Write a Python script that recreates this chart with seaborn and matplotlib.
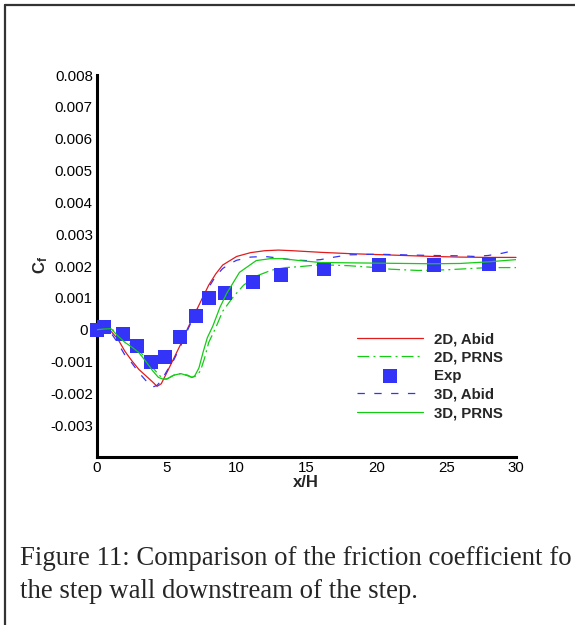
import numpy as np
import pandas as pd
import matplotlib
matplotlib.use("Agg")
import matplotlib.pyplot as plt
from matplotlib.lines import Line2D
from matplotlib.transforms import ScaledTranslation
from matplotlib.ticker import MultipleLocator, FixedLocator, FixedFormatter
import seaborn as sns

# ---------------- data ----------------
x_2d_abid = [0, 0.5, 1.0, 1.5, 2.0, 2.5, 3.0, 3.5, 4.0, 4.3, 4.6, 5.0, 5.5, 6.0, 6.5, 7.0, 7.5,
             8.0, 8.5, 9.0, 10, 11, 12, 13, 14, 16, 18, 20, 22, 24, 26, 28, 30]
cf_2d_abid = [0, 0.00003, -0.00005, -0.0003, -0.00068, -0.00098, -0.00125, -0.00145, -0.00165,
              -0.00178, -0.0017, -0.00135, -0.0009, -0.00045, 0.00005, 0.0005, 0.00095, 0.0014,
              0.00175, 0.00203, 0.0023, 0.00242, 0.00248, 0.0025, 0.00248, 0.00243, 0.00239,
              0.00236, 0.00233, 0.0023, 0.00228, 0.00227, 0.00227]

x_2d_prns = [0, 0.5, 1.0, 1.5, 2.0, 2.5, 3.0, 3.5, 4.0, 4.5, 4.8, 5.0, 5.5, 6.0, 6.5, 6.8, 7.1,
             7.4, 7.7, 8.0, 8.5, 9.0, 9.7, 10.5, 11.5, 12.5, 13.5, 14.5, 16, 18, 20, 21, 23, 25,
             28, 30]
cf_2d_prns = [0, 0.00002, 0.00005, -0.00015, -0.00033, -0.00048, -0.00065, -0.0009, -0.0012,
              -0.00145, -0.00155, -0.00155, -0.00143, -0.00138, -0.00143, -0.0015, -0.00145,
              -0.0013, -0.0009, -0.0004, 0.00006, 0.00058, 0.001, 0.0014, 0.0017, 0.00187,
              0.00195, 0.00198, 0.00204, 0.00201, 0.00195, 0.0019, 0.00186, 0.00188, 0.00195,
              0.00195]

x_exp = [0, 0.5, 1.86, 2.86, 3.87, 4.87, 5.94, 7.09, 8.0, 9.2, 11.2, 13.2, 16.25, 20.2, 24.1, 28.1]
cf_exp = [0, 0.00007, -0.00013, -0.0005, -0.001, -0.00085, -0.00022, 0.00044, 0.001, 0.00116,
          0.0015, 0.00173, 0.0019, 0.00204, 0.00204, 0.00207]

x_3d_abid = [0, 0.5, 1.0, 1.5, 2.0, 2.5, 3.0, 3.5, 4.0, 4.3, 4.6, 5.0, 5.5, 6.0, 6.5, 7.0, 7.5,
             8.0, 8.5, 9.0, 9.5, 10, 11, 12, 13, 14, 15, 16, 17, 18, 20, 22, 24, 26, 27, 28, 29, 30]
cf_3d_abid = [0, 0.00001, -0.0001, -0.00042, -0.0008, -0.00105, -0.00135, -0.0016, -0.0018,
              -0.00175, -0.0016, -0.0013, -0.00095, -0.0005, 0.0, 0.00048, 0.00093, 0.00133,
              0.00168, 0.00192, 0.00207, 0.00218, 0.00228, 0.0023, 0.00225, 0.00219, 0.00217,
              0.0022, 0.00228, 0.00235, 0.00237, 0.00235, 0.00233, 0.00232, 0.0023, 0.00233,
              0.0024, 0.0025]

x_3d_prns = [0, 0.5, 1.0, 1.5, 2.0, 2.5, 3.0, 3.5, 4.0, 4.4, 4.7, 5.0, 5.5, 6.0, 6.5, 6.8, 7.0,
             7.3, 7.6, 7.9, 8.3, 8.8, 9.3, 10.2, 11.4, 12.4, 13.3, 14.5, 16, 18, 20, 22, 24, 26,
             28, 30]
cf_3d_prns = [0, 0.00002, 0.00003, -0.0002, -0.0004, -0.00055, -0.00072, -0.001, -0.0013,
              -0.0015, -0.00155, -0.00155, -0.00143, -0.00138, -0.00145, -0.0015, -0.00145,
              -0.0012, -0.0007, -0.00025, 0.00012, 0.0007, 0.00115, 0.0018, 0.00217, 0.00223,
              0.00223, 0.00217, 0.00211, 0.0021, 0.00209, 0.00208, 0.00207, 0.00208, 0.00213,
              0.0022]

series_labels = ["2D, Abid", "2D, PRNS", "Exp", "3D, Abid", "3D, PRNS"]
x_ticks = [0, 5, 10, 15, 20, 25, 30]
y_ticks = [-0.003, -0.002, -0.001, 0, 0.001, 0.002, 0.003, 0.004, 0.005, 0.006, 0.007, 0.008]
y_tick_labels = ["-0.003", "-0.002", "-0.001", "0", "0.001", "0.002", "0.003", "0.004",
                 "0.005", "0.006", "0.007", "0.008"]
# caption as visible in the (cropped) original page
caption = ["Figure 11: Comparison of the friction coefficient fo",
           "the step wall downstream of the step."]

# ---------------- style ----------------
sns.set_style("white")
plt.rcParams["font.family"] = ["Liberation Sans", "DejaVu Sans"]
plt.rcParams["mathtext.fontset"] = "custom"
plt.rcParams["mathtext.rm"] = "Liberation Sans"
plt.rcParams["mathtext.bf"] = "Liberation Sans:bold"
plt.rcParams["lines.scale_dashes"] = False

W, H = 575, 625
fig = plt.figure(figsize=(W / 100, H / 100), dpi=100)
fig.patch.set_facecolor("white")
ax = fig.add_axes([97 / W, (H - 457) / H, 419 / W, 382 / H])
ax.set_facecolor("white")

RED = "#e21b1b"
GREEN = "#14cc14"
BLUE = "#3434f8"
lw = 0.9

def df(x, y):
    return pd.DataFrame({"x": x, "cf": y})

sns.lineplot(data=df(x_2d_abid, cf_2d_abid), x="x", y="cf", ax=ax, color=RED, lw=lw,
             label=series_labels[0], zorder=3, clip_on=False)
sns.lineplot(data=df(x_2d_prns, cf_2d_prns), x="x", y="cf", ax=ax, color=GREEN, lw=lw,
             label=series_labels[1], zorder=3, linestyle=(0, (8.5, 3.0, 1.4, 3.0)))
sns.scatterplot(data=df(x_exp, cf_exp), x="x", y="cf", ax=ax, color=BLUE, marker="s", s=115,
                linewidth=0, label=series_labels[2], zorder=4, clip_on=False)
sns.lineplot(data=df(x_3d_abid, cf_3d_abid), x="x", y="cf", ax=ax, color=BLUE, lw=lw,
             label=series_labels[3], zorder=5, linestyle=(0, (5.3, 6.8)))
sns.lineplot(data=df(x_3d_prns, cf_3d_prns), x="x", y="cf", ax=ax, color=GREEN, lw=lw,
             label=series_labels[4], zorder=5)

ax.set_xlim(0, 30)
ax.set_ylim(-0.004, 0.008)
ax.xaxis.set_major_locator(FixedLocator(x_ticks))
ax.xaxis.set_minor_locator(MultipleLocator(1))
ax.yaxis.set_major_locator(FixedLocator(y_ticks))
ax.yaxis.set_major_formatter(FixedFormatter(y_tick_labels))
ax.yaxis.set_minor_locator(MultipleLocator(0.0002))
ax.set_xticklabels([str(t) for t in x_ticks])

for side in ["top", "right"]:
    ax.spines[side].set_visible(False)
for side in ["left", "bottom"]:
    ax.spines[side].set_linewidth(2.2)
    ax.spines[side].set_color("black")

ax.tick_params(which="major", direction="in", length=7, width=1.6, color="black",
               labelsize=10.8, pad=3, labelcolor="black")
ax.tick_params(which="minor", direction="in", length=4, width=1.1, color="black")

ax.set_xlabel("x/H", fontsize=12, fontweight="bold")
ax.set_ylabel(r"$\mathbf{C_f}$", fontsize=12)
ax.xaxis.set_label_coords(209 / 419, -0.048)
ax.yaxis.set_label_coords(-0.112, 0.503)

# shift the "0" tick label a little to the left, as in the original
fig.canvas.draw()
for tick in ax.yaxis.get_major_ticks():
    if tick.label1.get_text() == "0":
        tick.label1.set_transform(tick.label1.get_transform()
                                  + ScaledTranslation(-5 / 100, 0, fig.dpi_scale_trans))

leg = ax.legend(loc="upper left", bbox_to_anchor=(357 / W, 1 - 332 / H),
                bbox_transform=fig.transFigure, frameon=False, borderpad=0,
                borderaxespad=0, handlelength=4.4, handletextpad=0.75,
                labelspacing=0.3, scatterpoints=1,
                prop={"family": "Liberation Sans", "weight": "bold", "size": 10.8})

# figure caption
fig.text(20 / W, 1 - 565 / H, caption[0], fontsize=19.3, family="Liberation Serif",
         ha="left", va="baseline")
fig.text(20 / W, 1 - 598 / H, caption[1], fontsize=19.3, family="Liberation Serif",
         ha="left", va="baseline")

# page frame (left and top edges)
fig.add_artist(Line2D([5 / W, 5 / W], [0, 1 - 5 / H], transform=fig.transFigure,
                      color="#333333", lw=1.6))
fig.add_artist(Line2D([5 / W, 1], [1 - 5 / H, 1 - 5 / H], transform=fig.transFigure,
                      color="#333333", lw=1.6))

fig.savefig("out.png", dpi=100, facecolor="white")
